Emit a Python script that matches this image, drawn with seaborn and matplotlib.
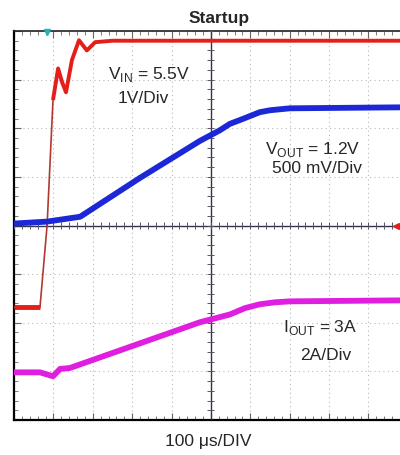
import numpy as np
import pandas as pd
import matplotlib
matplotlib.use("Agg")
import matplotlib.pyplot as plt
import seaborn as sns

# values, in divisions (x: 100 us/div, y: 8 div high)
t_vin = [0, 0.66, 0.84, 0.99, 1.12, 1.22, 1.32, 1.47, 1.65, 1.85, 2.06, 2.5, 9.8]
vin = [2.32, 2.32, 4.0, 6.58, 7.23, 6.95, 6.74, 7.40, 7.81, 7.60, 7.77, 7.80, 7.80]

t_vout = [0, 0.84, 1.68, 3.2, 4.72, 5.23, 5.48, 5.74, 5.99, 6.24, 6.50, 6.75, 7.0, 9.8]
vout = [4.04, 4.08, 4.18, 4.98, 5.74, 5.96, 6.09, 6.17, 6.25, 6.33, 6.37, 6.39, 6.41, 6.43]

t_iout = [0, 0.66, 0.99, 1.17, 1.42, 4.72, 5.1, 5.48, 5.86, 6.24, 6.62, 7.0, 9.8]
iout = [0.98, 0.98, 0.90, 1.05, 1.07, 2.01, 2.09, 2.17, 2.30, 2.38, 2.42, 2.44, 2.46]

sns.set_style("white")
plt.rcParams['font.family'] = ['Liberation Sans', 'DejaVu Sans']
plt.rcParams['mathtext.fontset'] = 'custom'
plt.rcParams['mathtext.rm'] = 'Liberation Sans'
plt.rcParams['lines.solid_joinstyle'] = 'round'
plt.rcParams['lines.solid_capstyle'] = 'butt'

fig = plt.figure(figsize=(4.0, 4.56), dpi=100)
ax = fig.add_axes([14/400, 1 - 421/456, 1 - 14/400, (421 - 32)/456])

df_vin = pd.DataFrame({'t': t_vin, 'v': vin})
df_vout = pd.DataFrame({'t': t_vout, 'v': vout})
df_iout = pd.DataFrame({'t': t_iout, 'v': iout})

# thin rising edge, thick (noisy) flat parts as on the scope
sns.lineplot(data=df_vin, x='t', y='v', color='#b03a2e', linewidth=1.2, ax=ax, zorder=5)
sns.lineplot(data=df_vin.iloc[:2], x='t', y='v', color='#e41f1a', linewidth=3.5, ax=ax, zorder=5)
sns.lineplot(data=df_vin.iloc[3:], x='t', y='v', color='#e41f1a', linewidth=2.8, ax=ax, zorder=5)
sns.lineplot(data=df_vout, x='t', y='v', color='#1c28d8', linewidth=4.2, ax=ax, zorder=6)
sns.lineplot(data=df_iout, x='t', y='v', color='#e01ee0', linewidth=4.2, ax=ax, zorder=6)

ax.set_xlim(0, (400 - 14) / 39.4)
ax.set_ylim(0, 8)

# scope graticule
ax.set_xticks(np.arange(0, 10, 1))
ax.set_yticks(np.arange(0, 9, 1))
ax.set_xticks(np.arange(0, 10, 0.2), minor=True)
ax.set_yticks(np.arange(0, 8, 0.2), minor=True)
ax.grid(which='major', color='#b8b8b8', linestyle=(0, (1, 3)), linewidth=0.8)
ax.tick_params(which='both', direction='in', top=True, left=True, bottom=True, right=False,
               labelbottom=False, labelleft=False, color='#666666')
ax.tick_params(which='major', length=5, width=0.8)
ax.tick_params(which='minor', length=3, width=0.6)
ax.set_xlabel('')
ax.set_ylabel('')

ax.axhline(4, color='#33334d', linewidth=1.0, zorder=3)
ax.axvline(5, color='#33334d', linewidth=1.0, zorder=3)
mx = np.arange(0, 9.9, 0.2)
my = np.arange(0, 8.01, 0.2)
ax.vlines(mx, 3.93, 4.07, color='#555566', linewidth=0.7, zorder=3)
ax.hlines(my, 4.91, 5.09, color='#555566', linewidth=0.7, zorder=3)

for side in ['left', 'bottom']:
    ax.spines[side].set_color('black')
    ax.spines[side].set_linewidth(1.6)
ax.spines['top'].set_color('#222222')
ax.spines['top'].set_linewidth(1.2)
ax.spines['right'].set_visible(False)

# trigger and level markers
ax.plot([0.84], [7.97], marker='v', color='#1fb5b0', markersize=5, clip_on=False, zorder=7)
ax.plot([9.7], [4.0], marker='<', color='#e41f1a', markersize=5, clip_on=False, zorder=7)

fs = 12.5
ax.text(2.39, 7.13, r'V$_{\rm IN}$ = 5.5V', fontsize=fs, ha='left', va='center')
ax.text(2.64, 6.64, '1V/Div', fontsize=fs, ha='left', va='center')
ax.text(6.37, 5.59, r'V$_{\rm OUT}$ = 1.2V', fontsize=fs, ha='left', va='center')
ax.text(6.55, 5.2, '500 mV/Div', fontsize=fs, ha='left', va='center')
ax.text(6.83, 1.93, r'I$_{\rm OUT}$ = 3A', fontsize=fs, ha='left', va='center')
ax.text(7.26, 1.35, '2A/Div', fontsize=fs, ha='left', va='center')

fig.text(219/400, 1 - 18/456, 'Startup', fontsize=12.5, fontweight='bold', ha='center', va='center')
fig.text(208/400, 1 - 442/456, '100 μs/DIV', fontsize=12.5, ha='center', va='center')

fig.savefig('out.png', dpi=100)
